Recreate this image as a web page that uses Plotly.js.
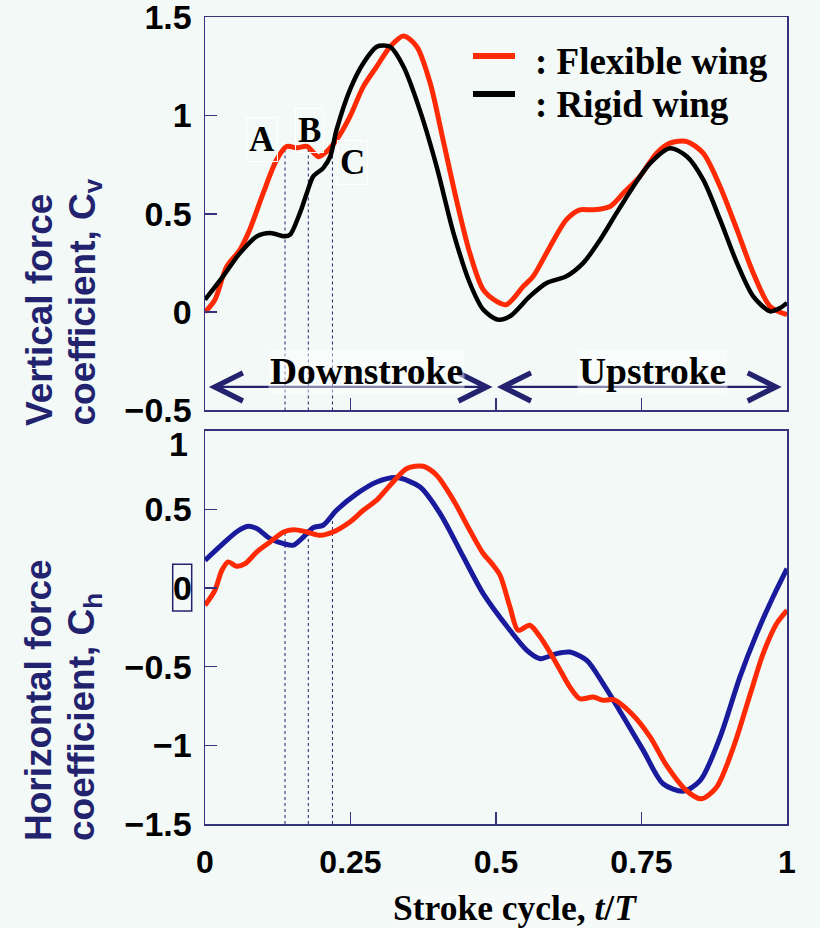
<!DOCTYPE html>
<html>
<head>
<meta charset="utf-8">
<script src="https://cdn.plot.ly/plotly-3.0.1.min.js"></script>
<style>
html,body{margin:0;padding:0;background:#f2f9f7;}
#chart{width:820px;height:928px;}
</style>
</head>
<body>
<div id="chart"></div>
<script>
// ---- data ----
const tTopFlex = [0, 0.017, 0.037, 0.06, 0.077, 0.1, 0.123, 0.14, 0.158, 0.175, 0.195, 0.209, 0.226, 0.249, 0.272, 0.295, 0.318, 0.341, 0.364, 0.387, 0.409, 0.432, 0.455, 0.478, 0.501, 0.518, 0.547, 0.564, 0.593, 0.621, 0.644, 0.667, 0.696, 0.719, 0.747, 0.776, 0.799, 0.828, 0.856, 0.885, 0.914, 0.942, 0.971, 1.0];
const cvFlex = [0, 0.063, 0.23, 0.317, 0.42, 0.605, 0.774, 0.842, 0.835, 0.842, 0.79, 0.816, 0.876, 0.994, 1.146, 1.248, 1.349, 1.404, 1.349, 1.163, 0.876, 0.571, 0.30, 0.114, 0.055, 0.038, 0.131, 0.182, 0.334, 0.47, 0.52, 0.52, 0.537, 0.605, 0.689, 0.808, 0.859, 0.867, 0.808, 0.639, 0.419, 0.199, 0.029, -0.013];

const tTopRigid = [0, 0.031, 0.06, 0.089, 0.112, 0.137, 0.146, 0.163, 0.175, 0.186, 0.203, 0.215, 0.226, 0.249, 0.272, 0.295, 0.307, 0.318, 0.341, 0.369, 0.398, 0.427, 0.455, 0.478, 0.503, 0.524, 0.558, 0.587, 0.621, 0.65, 0.679, 0.707, 0.736, 0.765, 0.799, 0.828, 0.856, 0.885, 0.914, 0.942, 0.971, 0.988, 1.0];
const cvRigid = [0.063, 0.182, 0.30, 0.385, 0.402, 0.385, 0.393, 0.503, 0.605, 0.69, 0.732, 0.79, 0.926, 1.13, 1.265, 1.349, 1.355, 1.349, 1.248, 1.028, 0.74, 0.402, 0.148, 0.013, -0.038, -0.021, 0.08, 0.148, 0.182, 0.25, 0.368, 0.503, 0.639, 0.757, 0.833, 0.791, 0.673, 0.47, 0.25, 0.08, 0.004, 0.021, 0.047];

const tBotFlex = [0, 0.017, 0.029, 0.04, 0.054, 0.069, 0.089, 0.112, 0.135, 0.152, 0.175, 0.198, 0.22, 0.249, 0.272, 0.295, 0.318, 0.347, 0.375, 0.398, 0.427, 0.455, 0.478, 0.494, 0.507, 0.524, 0.538, 0.558, 0.576, 0.604, 0.627, 0.644, 0.667, 0.684, 0.702, 0.736, 0.765, 0.793, 0.827, 0.853, 0.879, 0.908, 0.937, 0.959, 0.982, 1.0];
const chFlex = [-0.11, -0.015, 0.113, 0.166, 0.138, 0.155, 0.229, 0.293, 0.356, 0.371, 0.356, 0.335, 0.356, 0.42, 0.494, 0.558, 0.653, 0.76, 0.774, 0.717, 0.558, 0.367, 0.219, 0.15, 0.081, -0.121, -0.269, -0.237, -0.312, -0.481, -0.63, -0.704, -0.693, -0.714, -0.71, -0.81, -0.948, -1.128, -1.287, -1.34, -1.266, -1.011, -0.672, -0.417, -0.227, -0.142];

const tBotRigid = [0, 0.031, 0.054, 0.074, 0.089, 0.112, 0.135, 0.152, 0.169, 0.186, 0.203, 0.226, 0.261, 0.295, 0.329, 0.369, 0.404, 0.444, 0.478, 0.524, 0.553, 0.576, 0.604, 0.627, 0.656, 0.684, 0.719, 0.753, 0.787, 0.822, 0.851, 0.885, 0.919, 0.948, 0.976, 1.0];
const chRigid = [0.176, 0.282, 0.356, 0.392, 0.378, 0.314, 0.282, 0.272, 0.324, 0.384, 0.399, 0.494, 0.60, 0.674, 0.702, 0.643, 0.473, 0.197, -0.036, -0.269, -0.396, -0.449, -0.417, -0.407, -0.46, -0.608, -0.82, -1.032, -1.244, -1.291, -1.223, -0.948, -0.566, -0.29, -0.057, 0.123];

// instants A, B, C and the heights of their dotted guide lines
const markLabels = ['A', 'B', 'C'];
const markT = [0.1375, 0.1775, 0.219];
const markTopV = [0.842, 0.842, 0.835];
const markBotV = [0.354, 0.35, 0.45];

const seriesNames = [': Flexible wing', ': Rigid wing'];
const xTickVals = [0, 0.25, 0.5, 0.75, 1];
const xTickText = ['0', '0.25', '0.5', '0.75', '1'];
const yTopTicks = [-0.5, 0, 0.5, 1, 1.5];
const yBotTicks = [-1.5, -1, -0.5, 0, 0.5, 1];

// ---- styling ----
const RED = '#ff2a04', BLACK = '#000000', BLUE = '#1a1a9c', NAVY = '#22226e', AX = '#34347e';
const BG = '#f2f9f7';
const sans = '"Liberation Sans", Arial, sans-serif';
const serif = '"Liberation Serif", "Times New Roman", serif';
const tickFont = {family: sans, size: 34, color: '#000', weight: 700};
const xTickFont = {family: sans, size: 32, color: '#000', weight: 700};
const fmt = v => (v < 0 ? '\u2212' + Math.abs(v) : String(v));

// pixel helpers for paper-referenced decorations
const PL = 205, PW = 582, PB = 824, PH = 807;
const px = X => (X - PL) / PW;
const py = Y => (PB - Y) / PH;

const traces = [
  {x: tTopFlex, y: cvFlex, xaxis: 'x', yaxis: 'y', mode: 'lines', name: 'Flexible wing',
   line: {color: RED, width: 5, shape: 'spline', smoothing: 0.8}},
  {x: tTopRigid, y: cvRigid, xaxis: 'x', yaxis: 'y', mode: 'lines', name: 'Rigid wing',
   line: {color: BLACK, width: 4.5, shape: 'spline', smoothing: 0.8}},
  {x: tBotRigid, y: chRigid, xaxis: 'x2', yaxis: 'y2', mode: 'lines', name: 'Rigid wing (Ch)',
   line: {color: BLUE, width: 5, shape: 'spline', smoothing: 0.8}},
  {x: tBotFlex, y: chFlex, xaxis: 'x2', yaxis: 'y2', mode: 'lines', name: 'Flexible wing (Ch)',
   line: {color: RED, width: 5, shape: 'spline', smoothing: 0.8}}
];

const shapes = [];
markT.forEach((t, i) => {
  shapes.push({type: 'line', xref: 'x', yref: 'y', x0: t, x1: t, y0: -0.5, y1: markTopV[i],
               line: {color: NAVY, width: 1, dash: 'dot'}, layer: 'below'});
  shapes.push({type: 'line', xref: 'x2', yref: 'y2', x0: t, x1: t, y0: -1.5, y1: markBotV[i],
               line: {color: NAVY, width: 1, dash: 'dot'}, layer: 'below'});
});
// box around the "0" tick label of the lower panel
shapes.push({type: 'rect', xref: 'paper', yref: 'y2', x0: px(172.7), x1: px(191.7), y0: 0.151, y1: -0.146,
             line: {color: NAVY, width: 1.5}});
// legend samples
shapes.push({type: 'line', xref: 'paper', yref: 'paper', x0: px(473), x1: px(515), y0: py(56), y1: py(56),
             line: {color: RED, width: 6}});
shapes.push({type: 'line', xref: 'paper', yref: 'paper', x0: px(473), x1: px(515), y0: py(94), y1: py(94),
             line: {color: BLACK, width: 6}});

const annotations = [];
// legend labels
annotations.push({text: seriesNames[0], xref: 'paper', yref: 'paper', x: px(533), y: py(62), xanchor: 'left',
  yanchor: 'middle', showarrow: false, font: {family: serif, size: 37, color: '#000', weight: 700}});
annotations.push({text: seriesNames[1], xref: 'paper', yref: 'paper', x: px(533), y: py(104), xanchor: 'left',
  yanchor: 'middle', showarrow: false, font: {family: serif, size: 37, color: '#000', weight: 700}});

markLabels.forEach((lab, i) => {
  const pos = [[0.098, 0.876], [0.180, 0.921], [0.254, 0.759]][i];
  annotations.push({text: lab, xref: 'x', yref: 'y', x: pos[0], y: pos[1], showarrow: false,
    font: {family: serif, size: 35, color: '#000', weight: 700},
    bordercolor: '#ffffff', borderwidth: 1, borderpad: 2});
});
// stroke-phase arrows
const arrowCommon = {xref: 'x', yref: 'y', axref: 'x', ayref: 'y', showarrow: true, arrowside: 'end+start',
  arrowhead: 5, startarrowhead: 5, arrowsize: 2.5, startarrowsize: 2.5, arrowwidth: 2.2, arrowcolor: NAVY, text: '',
  standoff: 0, startstandoff: 0};
annotations.push(Object.assign({}, arrowCommon, {x: 0.494, y: -0.38, ax: 0.004, ay: -0.38}));
annotations.push(Object.assign({}, arrowCommon, {x: 0.991, y: -0.38, ax: 0.499, ay: -0.38}));
annotations.push({text: 'Downstroke', xref: 'x', yref: 'y', x: 0.277, y: -0.30, showarrow: false,
  font: {family: serif, size: 37.5, color: '#000', weight: 700}, bgcolor: 'rgba(255,255,255,0.45)'});
annotations.push({text: 'Upstroke', xref: 'x', yref: 'y', x: 0.769, y: -0.30, showarrow: false,
  font: {family: serif, size: 37.5, color: '#000', weight: 700}, bgcolor: 'rgba(255,255,255,0.45)'});
// y-axis titles (two lines each, start-aligned at the bottom)
const titleFont = {family: sans, size: 37, color: NAVY, weight: 700};
[['Vertical force', 'coefficient, C<sub>v</sub>', 428], ['Horizontal force', 'coefficient, C<sub>h</sub>', 843]]
  .forEach(([l1, l2, yb]) => {
    annotations.push({text: l1, xref: 'paper', yref: 'paper', x: px(39), y: py(yb), xanchor: 'center',
      yanchor: 'bottom', textangle: -90, showarrow: false, font: titleFont});
    annotations.push({text: l2, xref: 'paper', yref: 'paper', x: px(84), y: py(yb), xanchor: 'center',
      yanchor: 'bottom', textangle: -90, showarrow: false, font: titleFont});
  });
// x-axis title
annotations.push({text: 'Stroke cycle, <i>t</i>/<i>T</i>', xref: 'paper', yref: 'paper',
  x: px(515), y: py(908), xanchor: 'center', yanchor: 'middle', showarrow: false,
  font: {family: serif, size: 35.5, color: '#000', weight: 700}, bgcolor: 'rgba(255,255,255,0.35)'});
// boxed zero tick label and the lowered "1" label of the lower panel
annotations.push({text: '0', xref: 'paper', yref: 'y2', x: px(182), y: 0, xanchor: 'center', yanchor: 'middle',
  showarrow: false, font: tickFont});
annotations.push({text: fmt(1), xref: 'paper', yref: 'paper', x: px(190), y: py(444), xanchor: 'right', yanchor: 'middle',
  showarrow: false, font: tickFont});

const axisCommon = {showline: true, mirror: true, linecolor: AX, linewidth: 1.5, ticks: 'inside', ticklen: 12,
  tickcolor: AX, tickwidth: 1.5, showgrid: false, zeroline: false, fixedrange: true, ticklabeloverflow: 'allow'};

const layout = {
  width: 820, height: 928,
  paper_bgcolor: BG, plot_bgcolor: BG,
  margin: {l: 205, r: 33, t: 17, b: 104},
  showlegend: false,
  xaxis: Object.assign({}, axisCommon, {anchor: 'y', range: [0, 1], tickvals: [0.25, 0.5, 0.75], showticklabels: false}),
  yaxis: Object.assign({}, axisCommon, {anchor: 'x', domain: [0.5124, 1], range: [-0.5, 1.5], tickvals: yTopTicks,
    ticktext: yTopTicks.map(fmt), tickfont: tickFont, ticklabelstandoff: 5}),
  xaxis2: Object.assign({}, axisCommon, {anchor: 'y2', range: [0, 1], tickvals: xTickVals, ticktext: xTickText,
    tickfont: xTickFont, ticklabelstandoff: 9}),
  yaxis2: Object.assign({}, axisCommon, {anchor: 'x2', domain: [0, 0.4874], range: [-1.5, 1], tickvals: yBotTicks,
    ticktext: yBotTicks.map(v => (v === 0 || v === 1) ? '' : fmt(v)),
    tickfont: tickFont, ticklabelstandoff: 5}),
  shapes: shapes,
  annotations: annotations
};

Plotly.newPlot('chart', traces, layout, {displayModeBar: false, staticPlot: true});
</script>
</body>
</html>
